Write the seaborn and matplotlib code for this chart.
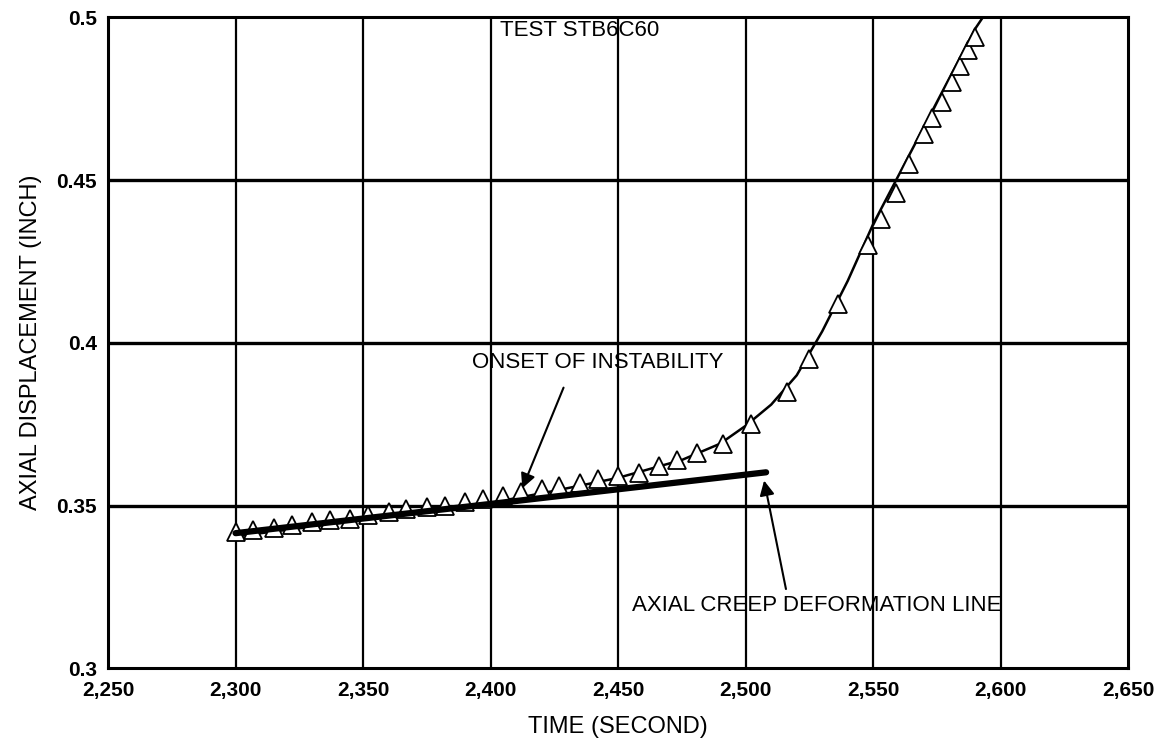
import numpy as np
import pandas as pd
import seaborn as sns
import matplotlib.pyplot as plt
from matplotlib.ticker import FuncFormatter

# measured points (triangles)
time_s = [2300, 2307, 2315, 2322, 2330, 2337, 2345, 2352, 2360, 2367, 2375,
          2382, 2390, 2397, 2405, 2412, 2420, 2427, 2435, 2442, 2450, 2458,
          2466, 2473, 2481, 2491, 2502, 2516, 2525, 2536, 2548, 2553, 2559,
          2564, 2570, 2573, 2577, 2581, 2584, 2587, 2590]
disp_in = [0.342, 0.3425, 0.343, 0.344, 0.345, 0.3455, 0.346, 0.347, 0.348,
           0.349, 0.3495, 0.350, 0.351, 0.352, 0.353, 0.354, 0.355, 0.356,
           0.357, 0.358, 0.359, 0.360, 0.362, 0.364, 0.366, 0.369, 0.375,
           0.385, 0.395, 0.412, 0.430, 0.438, 0.446, 0.455, 0.464, 0.469,
           0.474, 0.480, 0.485, 0.490, 0.494]

# fitted curve through the data
curve_t = [2300, 2350, 2400, 2425, 2450, 2475, 2490, 2500, 2510, 2520,
           2530, 2540, 2550, 2560, 2570, 2580, 2590, 2593]
curve_y = [0.3405, 0.3455, 0.3508, 0.3545, 0.3585, 0.364, 0.369, 0.3745,
           0.381, 0.390, 0.4035, 0.419, 0.4365, 0.4515, 0.4665, 0.4815,
           0.4965, 0.5]

# axial creep deformation line
creep_t = [2300, 2508]
creep_y = [0.3415, 0.3602]

sns.set_theme(style="white")
plt.rcParams['font.family'] = ['Liberation Sans', 'DejaVu Sans']

fig = plt.figure(figsize=(11.68, 7.5), dpi=100)
ax = fig.add_axes([0.0925, 0.109, 0.8735, 0.868])

ax.set_xlim(2250, 2650)
ax.set_ylim(0.3, 0.5)
ax.set_xticks(range(2250, 2651, 50))
ax.set_yticks([0.3, 0.35, 0.4, 0.45, 0.5])
ax.xaxis.set_major_formatter(FuncFormatter(lambda v, p: f"{int(v):,}"))
ax.yaxis.set_major_formatter(FuncFormatter(lambda v, p: f"{v:g}"))

for x in range(2300, 2650, 50):
    ax.axvline(x, color='black', lw=1.6, zorder=1)
for y in [0.35, 0.4, 0.45]:
    ax.axhline(y, color='black', lw=2.4, zorder=1)

sns.lineplot(x=curve_t, y=curve_y, color='black', lw=1.8, ax=ax, zorder=3)
sns.lineplot(x=time_s, y=disp_in, linestyle='none', marker='^', markersize=13,
             markerfacecolor='white', markeredgecolor='black',
             markeredgewidth=1.3, ax=ax, zorder=4)
sns.lineplot(x=creep_t, y=creep_y, color='black', lw=4.5, ax=ax, zorder=5)

for s in ax.spines.values():
    s.set_color('black')
    s.set_linewidth(2.2)

ax.tick_params(axis='both', labelsize=15, length=0, colors='black')
ax.tick_params(axis='x', pad=9)
ax.tick_params(axis='y', pad=8)
for lab in ax.get_xticklabels() + ax.get_yticklabels():
    lab.set_fontweight('bold')

ax.set_xlabel('TIME (SECOND)', fontsize=17, labelpad=12, color='black')
ax.set_ylabel('AXIAL DISPLACEMENT (INCH)', fontsize=17, labelpad=10, color='black')

ax.text(2435, 0.496, 'TEST STB6C60', fontsize=16, ha='center', va='center',
        color='black', zorder=6)
ax.text(2442, 0.394, 'ONSET OF INSTABILITY', fontsize=16, ha='center', va='center',
        color='black', zorder=6)
ax.text(2528, 0.3194, 'AXIAL CREEP DEFORMATION LINE', fontsize=16, ha='center',
        va='center', color='black', zorder=6)

ax.annotate('', xy=(2412, 0.3545), xytext=(2429, 0.387),
            arrowprops=dict(arrowstyle='-|>', color='black', lw=1.5, mutation_scale=22), zorder=6)
ax.annotate('', xy=(2507, 0.3585), xytext=(2516, 0.3235),
            arrowprops=dict(arrowstyle='-|>', color='black', lw=1.5, mutation_scale=22), zorder=6)

fig.savefig('out.png', dpi=100)
